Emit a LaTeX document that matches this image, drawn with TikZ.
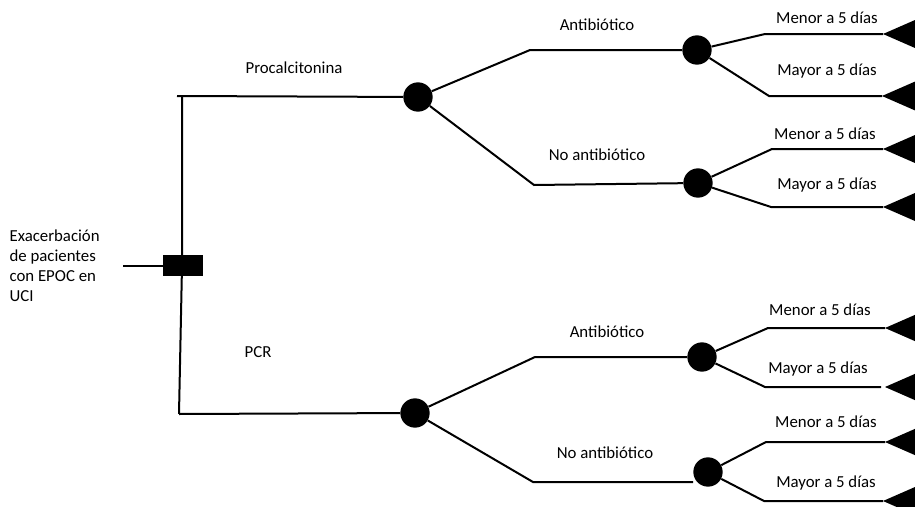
\documentclass[tikz,border=0pt]{standalone}
\usepackage{fontspec}
\setmainfont{Carlito}
\usetikzlibrary{positioning}

\begin{document}
\begin{tikzpicture}[
x=0.75pt, y=-0.75pt,
every node/.style={font=\fontsize{12.6}{15}\selectfont},
decision/.style={draw, fill=black, minimum width=29pt, minimum height=15pt, inner sep=0pt},
chance/.style={circle, fill=black, minimum size=22pt, inner sep=0pt},
branch/.style={line width=1.5pt},
lbl/.style={inner sep=1pt}
]
\useasboundingbox (0,0) rectangle (915,507);
\clip (0,0) rectangle (915,507);

% root and decision
\node[lbl, anchor=west, align=left] (start) at (8,266) {Exacerbación\\de pacientes\\con EPOC en\\UCI};
\coordinate (in) at (123,266);
\coordinate (up) at (182,96);
\coordinate (down) at (179,414);

% chance nodes
\node[chance] (pct) at (418,97) {};
\node[chance] (pcr) at (415,413) {};
\node[chance] (pctab) at (697,50) {};
\node[chance] (pctno) at (698,183) {};
\node[chance] (pcrab) at (702,357) {};
\node[chance] (pcrno) at (708,472) {};

% knees of the branches
\coordinate (k1) at (530,50);
\coordinate (k2) at (534,185);
\coordinate (k3) at (535,357);
\coordinate (k4) at (533,482);
\coordinate (m1) at (765,34);
\coordinate (m2) at (769,96);
\coordinate (m3) at (772,149);
\coordinate (m4) at (771,207);
\coordinate (m5) at (768,328);
\coordinate (m6) at (765,387);
\coordinate (m7) at (766,442);
\coordinate (m8) at (764,501);

% end points
\coordinate (t1) at (883,34);
\coordinate (t2) at (882,96);
\coordinate (t3) at (883,149);
\coordinate (t4) at (883,207);
\coordinate (t5) at (885,328);
\coordinate (t6) at (885,387);
\coordinate (t7) at (885,442);
\coordinate (t8) at (883,501);

\draw[branch] (in) -- (182,266);
\draw[branch] (177,96) -- (pct);
\draw[branch] (up) -- (182,266) -- (down);
\draw[branch] (down) -- (pcr);
\node[decision] (dec) at (183,265) {};

\draw[branch] (pct) -- (k1) -- (pctab);
\draw[branch] (pct) -- (k2) -- (pctno);
\draw[branch] (pcr) -- (k3) -- (pcrab);
\draw[branch] (pcr) -- (k4) -- (pcrno.west |- k4);

\draw[branch] (pctab) -- (m1) -- (t1);
\draw[branch] (pctab) -- (m2) -- (t2);
\draw[branch] (pctno) -- (m3) -- (t3);
\draw[branch] (pctno) -- (m4) -- (t4);
\draw[branch] (pcrab) -- (m5) -- (t5);
\draw[branch] (pcrab) -- (m6) -- ([xshift=-3pt]t6);
\draw[branch] (pcrno) -- (m7) -- (t7);
\draw[branch] (pcrno) -- (m8) -- (t8);

\foreach \t in {t1,t2,t3,t4,t5,t6,t7,t8}
  \fill (\t) -- ++(40,-17.5) -- ++(0,35) -- cycle;

% labels
\node[lbl] (lpct) at (294,68) {Procalcitonina};
\node[lbl] (lpcr) at (258,352) {PCR};
\node[lbl] (la1) at (597,25) {Antibiótico};
\node[lbl] (ln1) at (597,155) {No antibiótico};
\node[lbl] (la2) at (607,332) {Antibiótico};
\node[lbl] (ln2) at (605,453) {No antibiótico};
\node[lbl] (d1) at (827,18) {Menor a 5 días};
\node[lbl] (d2) at (827,71) {Mayor a 5 días};
\node[lbl] (d3) at (825,134) {Menor a 5 días};
\node[lbl] (d4) at (827,185) {Mayor a 5 días};
\node[lbl] (d5) at (820,310) {Menor a 5 días};
\node[lbl] (d6) at (818,369) {Mayor a 5 días};
\node[lbl] (d7) at (826,422) {Menor a 5 días};
\node[lbl] (d8) at (826,483) {Mayor a 5 días};
\end{tikzpicture}
\end{document}
